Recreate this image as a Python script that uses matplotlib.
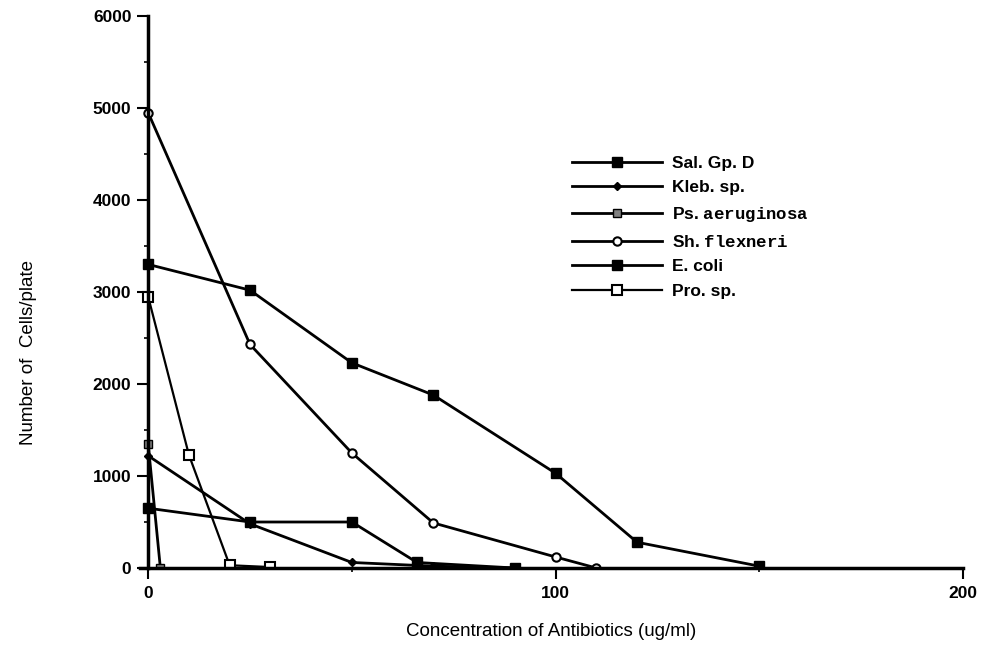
import matplotlib.pyplot as plt
from matplotlib.ticker import MultipleLocator

# values
sal_x = [0, 25, 50, 70, 100, 120, 150]
sal_y = [3300, 3020, 2230, 1880, 1030, 280, 20]

kleb_x = [0, 25, 50, 70, 90]
kleb_y = [1220, 480, 60, 20, 0]

ps_x = [0, 3]
ps_y = [1350, 0]

sh_x = [0, 25, 50, 70, 100, 110]
sh_y = [4950, 2430, 1250, 490, 120, 0]

ecoli_x = [0, 25, 50, 66, 90]
ecoli_y = [650, 500, 500, 60, 0]

pro_x = [0, 10, 20, 30]
pro_y = [2950, 1230, 30, 10]

labels = ['Sal. Gp. D', 'Kleb. sp.', r'Ps. $\mathtt{aeruginosa}$',
          r'Sh. $\mathtt{flexneri}$', 'E. coli', 'Pro. sp.']

plt.rcParams['font.family'] = ['Liberation Sans', 'DejaVu Sans']
plt.rcParams['mathtext.fontset'] = 'custom'
plt.rcParams['mathtext.tt'] = 'Liberation Mono:bold'

fig = plt.figure(figsize=(9.89, 6.46), dpi=100)
ax = fig.add_axes([140 / 989, 78 / 646, 823 / 989, 552 / 646])

lw = 2.0
ax.plot(sal_x, sal_y, color='black', lw=lw, marker='s', ms=7, mfc='black', label=labels[0])
ax.plot(kleb_x, kleb_y, color='black', lw=lw, marker='D', ms=4, mfc='black', label=labels[1])
ax.plot(ps_x, ps_y, color='black', lw=lw, marker='s', ms=6, mfc='grey', label=labels[2])
ax.plot(sh_x, sh_y, color='black', lw=lw, marker='o', ms=6, mfc='white', mew=1.5, label=labels[3])
ax.plot(ecoli_x, ecoli_y, color='black', lw=lw, marker='s', ms=7, mfc='black', label=labels[4])
ax.plot(pro_x, pro_y, color='black', lw=1.6, marker='s', ms=7, mfc='white', mew=1.5, label=labels[5])

ax.set_xlim(-2, 200)
ax.set_ylim(0, 6000)

for s in ['top', 'right']:
    ax.spines[s].set_visible(False)
ax.spines['left'].set_position(('data', 0))
ax.spines['left'].set_linewidth(2.5)
ax.spines['bottom'].set_linewidth(2.5)

ax.xaxis.set_major_locator(MultipleLocator(100))
ax.xaxis.set_minor_locator(MultipleLocator(50))
ax.yaxis.set_major_locator(MultipleLocator(1000))
ax.yaxis.set_minor_locator(MultipleLocator(500))
ax.tick_params(axis='both', which='major', direction='out', length=8, width=1.5,
               labelsize=12.5)
ax.tick_params(axis='both', which='minor', direction='out', length=3, width=1.2)
for t in ax.get_xticklabels() + ax.get_yticklabels():
    t.set_fontweight('bold')
ax.yaxis.set_tick_params(pad=4)
ax.xaxis.set_tick_params(pad=5)

ax.set_xlabel('Concentration of Antibiotics (ug/ml)', fontsize=13.5, labelpad=16)
ax.set_ylabel('Number of  Cells/plate', fontsize=13.5)
ax.yaxis.set_label_coords(-0.125, 0.39)

leg = ax.legend(loc='upper left', bbox_to_anchor=(556 / 989, 1 - 140 / 646),
                bbox_transform=fig.transFigure, frameon=False, fontsize=12.5,
                handlelength=5.2, labelspacing=0.55, handletextpad=0.6)
for t in leg.get_texts():
    t.set_fontweight('bold')

fig.savefig('out.png', dpi=100)
